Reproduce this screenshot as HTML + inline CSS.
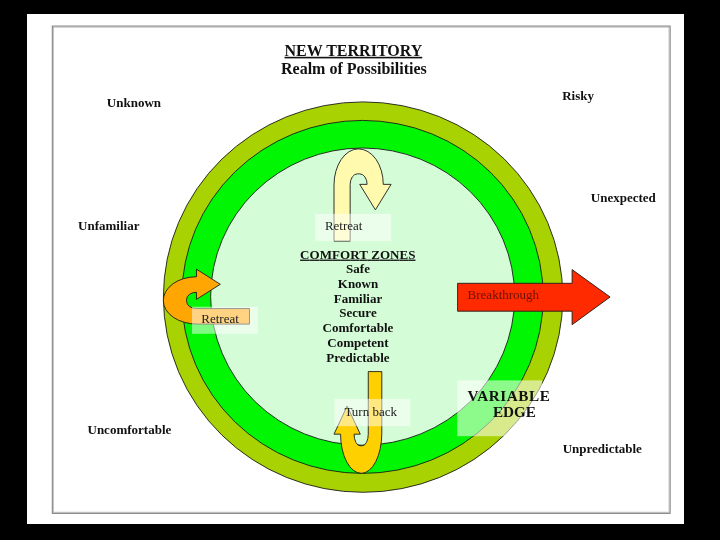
<!DOCTYPE html>
<html><head><meta charset="utf-8"><title>Comfort Zones</title>
<style>
html,body{margin:0;padding:0;background:#000;}
body{width:720px;height:540px;overflow:hidden;position:relative;font-family:"Liberation Serif",serif;}
svg{position:absolute;left:0;top:0;}
text{font-family:"Liberation Serif",serif;}
.b{font-weight:bold;fill:#111;}
</style></head><body>
<svg width="720" height="540" viewBox="0 0 720 540">
<rect x="27" y="14" width="657" height="510" fill="#fff"/>
<g style="filter:blur(0.45px)">
<rect x="52.3" y="26.1" width="617.8" height="487.2" fill="#fff" stroke="#707070" stroke-width="1"/>
<rect x="53.3" y="27.1" width="615.8" height="485.2" fill="none" stroke="#b6b6b6" stroke-width="1"/>
<ellipse cx="363.1" cy="297.1" rx="199.7" ry="195.2" fill="#a9d202" stroke="#1c1c1c" stroke-width="0.9"/>
<ellipse cx="362.5" cy="296.9" rx="180.7" ry="176.5" fill="#00f602" stroke="#1c1c1c" stroke-width="0.9"/>
<ellipse cx="362.65" cy="296.6" rx="152" ry="148.6" fill="#d4fcd6" stroke="#1c1c1c" stroke-width="0.9"/>

<path d="M375.40,209.88 L391.10,184.37 L383.25,184.37 A24.80,35.47 0 0 0 358.45,148.90 A24.45,36.22 0 0 0 334.00,185.12 L334.00,241.10 L350.15,241.10 L350.15,184.37 A7.39,10.53 0 0 1 357.55,173.84 L359.71,173.84 A7.39,10.53 0 0 1 367.10,184.37 L359.71,184.37 Z" fill="#fffaad" stroke="#1c1c1c" stroke-width="0.9" stroke-linejoin="miter"/>
<path d="M220.31,284.29 L196.46,269.20 L196.46,276.75 A33.16,23.84 0 0 0 163.30,300.59 A33.86,23.51 0 0 0 197.16,324.10 L249.50,324.10 L249.50,308.57 L196.46,308.57 A9.85,7.11 0 0 1 186.61,301.46 L186.61,299.38 A9.85,7.10 0 0 1 196.46,292.28 L196.46,299.38 Z" fill="#ffa602" stroke="#1c1c1c" stroke-width="0.9"/>
<path d="M347.14,406.04 L334.00,434.17 L340.57,434.17 A20.76,39.13 0 0 0 361.33,473.30 A20.47,39.95 0 0 0 381.80,433.35 L381.80,371.60 L368.28,371.60 L368.28,434.17 A6.19,11.62 0 0 1 362.09,445.79 L360.28,445.79 A6.19,11.62 0 0 1 354.09,434.17 L360.28,434.17 Z" fill="#ffd000" stroke="#1c1c1c" stroke-width="0.9"/>
<path d="M457.6,283.3 L572.1,283.3 L572.1,269.6 L610.1,297 L572.1,324.7 L572.1,311.2 L457.6,311.2 Z" fill="#ff2a00" stroke="#1c1c1c" stroke-width="0.9"/>

<rect x="315.1" y="213.8" width="76" height="27.3" fill="#fff" fill-opacity="0.5"/>
<rect x="192" y="306.7" width="66" height="27.1" fill="#fff" fill-opacity="0.5"/>
<rect x="334.4" y="398.9" width="76" height="27.3" fill="#fff" fill-opacity="0.5"/>
<rect x="457.2" y="380.4" width="85" height="55.8" fill="#fff" fill-opacity="0.55"/>

<g font-size="16" class="b">
<text x="353.4" y="55.8" text-anchor="middle" text-decoration="underline">NEW TERRITORY</text>
<text x="353.9" y="73.9" text-anchor="middle">Realm of Possibilities</text>
<text x="467.6" y="400.6" font-size="15.2" textLength="82.2">VARIABLE</text>
<text x="493" y="416.8" font-size="15.2" textLength="43">EDGE</text>
</g>
<g font-size="13" class="b">
<text x="106.8" y="106.8">Unknown</text>
<text x="562.2" y="100">Risky</text>
<text x="590.8" y="202">Unexpected</text>
<text x="78.1" y="230.2">Unfamiliar</text>
<text x="87.5" y="433.8">Uncomfortable</text>
<text x="562.7" y="453.3">Unpredictable</text>
<g text-anchor="middle">
<text x="357.8" y="258.6" text-decoration="underline" textLength="115.4">COMFORT ZONES</text>
<text x="358" y="273.2">Safe</text>
<text x="358" y="288">Known</text>
<text x="358" y="302.7">Familiar</text>
<text x="358" y="317.4">Secure</text>
<text x="358" y="332.1">Comfortable</text>
<text x="358" y="346.8">Competent</text>
<text x="358" y="361.6">Predictable</text>
</g>
</g>
<g font-size="13" fill="#222">
<text x="324.9" y="230">Retreat</text>
<text x="201.3" y="323.1">Retreat</text>
<text x="344.4" y="416">Turn back</text>
<text x="467.6" y="298.8" fill="#6c1000">Breakthrough</text>
</g>
</g>
</svg>
</body></html>
